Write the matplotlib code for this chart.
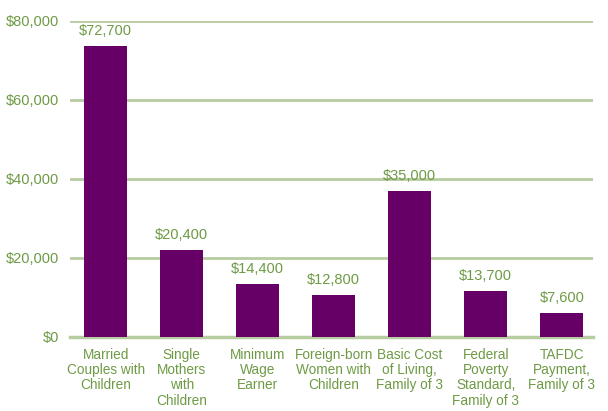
import matplotlib.pyplot as plt
from matplotlib.ticker import FuncFormatter

# categories and values
categories = ["Married\nCouples with\nChildren", "Single\nMothers\nwith\nChildren",
              "Minimum\nWage\nEarner", "Foreign-born\nWomen with\nChildren",
              "Basic Cost\nof Living,\nFamily of 3", "Federal\nPoverty\nStandard,\nFamily of 3",
              "TAFDC\nPayment,\nFamily of 3"]
# bar heights as drawn (they do not exactly match the printed labels)
heights = [73600, 21900, 13300, 10500, 36900, 11500, 5900]
value_labels = ["$72,700", "$20,400", "$14,400", "$12,800", "$35,000", "$13,700", "$7,600"]
yticks = [0, 20000, 40000, 60000, 80000]

purple = "#660066"
green_text = "#6e9a45"
green_grid = "#b7cca0"

plt.rcParams['font.family'] = ['Liberation Sans Narrow', 'Liberation Sans', 'DejaVu Sans']

fig = plt.figure(figsize=(6.08, 4.11), dpi=100)
ax = fig.add_axes([0.1151, 0.1808, 0.8602, 0.7688])

x = list(range(len(categories)))
bars = ax.bar(x, heights, width=0.57, color=purple, zorder=3)

for b, lab in zip(bars, value_labels):
    ax.annotate(lab, (b.get_x() + b.get_width() / 2, b.get_height()),
                xytext=(0, 6), textcoords="offset points",
                ha="center", va="bottom", color=green_text, fontsize=10.5)

ax.set_ylim(0, 80000)
ax.set_xlim(-0.47, 6.41)
ax.set_yticks(yticks)
ax.yaxis.set_major_formatter(FuncFormatter(lambda v, p: "${:,.0f}".format(v)))
ax.set_xticks(x)
ax.set_xticklabels(categories, linespacing=1.12, fontsize=9.8)

ax.grid(axis="y", color=green_grid, linewidth=2, zorder=0)
for s in ["top", "right", "left"]:
    ax.spines[s].set_visible(False)
ax.spines["bottom"].set_color(green_grid)
ax.spines["bottom"].set_linewidth(2.5)
ax.tick_params(axis="both", length=0, colors=green_text)
ax.tick_params(axis="y", pad=8, labelsize=10.5)
ax.tick_params(axis="x", pad=8)

fig.savefig("out.png", dpi=100)
